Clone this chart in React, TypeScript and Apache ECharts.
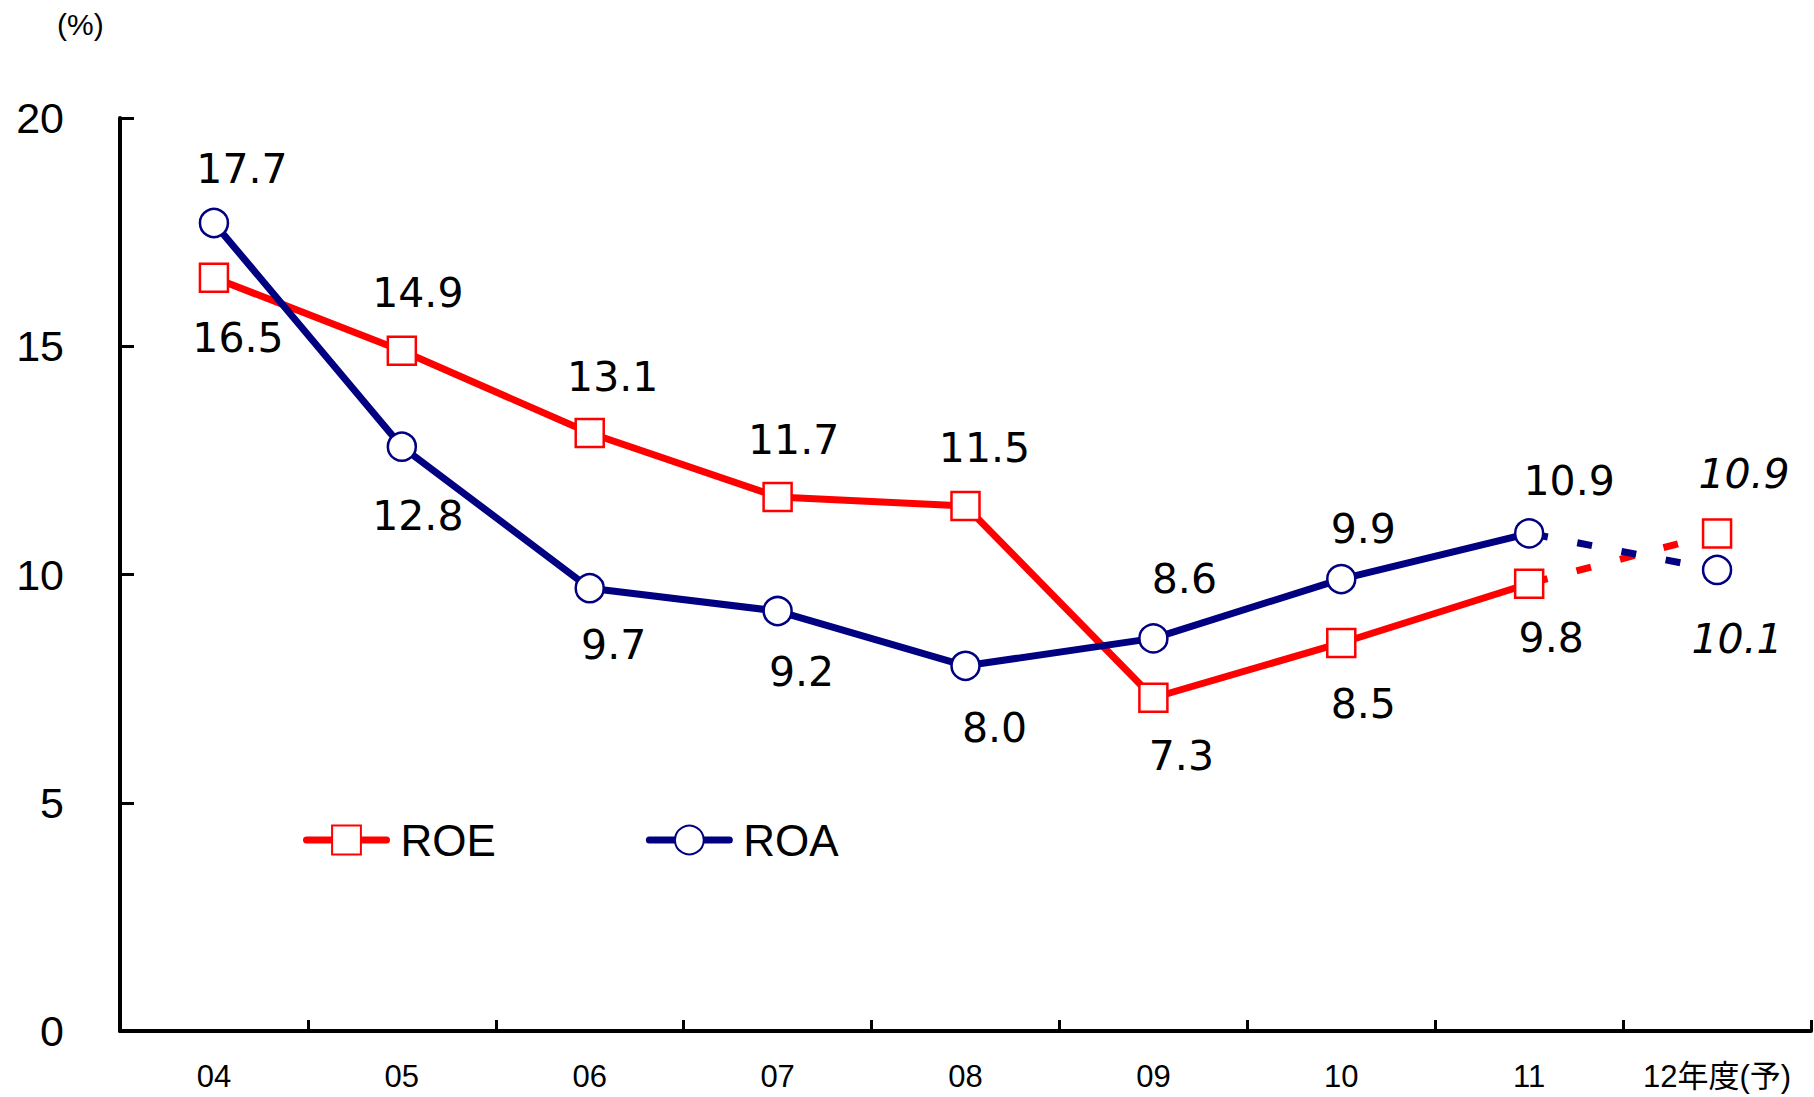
import React, { useEffect, useRef } from "react";
import * as echarts from "echarts";

const categories = ["04", "05", "06", "07", "08", "09", "10", "11", "12年度(予)"];
const roeValues = [16.5, 14.9, 13.1, 11.7, 11.5, 7.3, 8.5, 9.8, 10.9];
const roaValues = [17.7, 12.8, 9.7, 9.2, 8.0, 8.6, 9.9, 10.9, 10.1];
const lastActualIndex = 7; // index 8 is the forecast
const yTicks = { min: 0, max: 20, interval: 5 };

// label placement (style, not data): [dx, dy] offsets from the marker
const roeLabelOffsets = [[24, 60], [16, -58], [23, -56], [16, -57], [19, -58], [28, 58], [22, 61], [22, 54], [27, -59]];
const roaLabelOffsets = [[28, -54], [16, 69], [24, 57], [24, 61], [29, 62], [31, -59], [22, -50], [40, -52], [20, 69]];

const RED = "#ff0000";
const NAVY = "#000080";
const LABEL_FONT = "'DejaVu Sans', 'Liberation Sans', sans-serif";
const AXIS_FONT = "'Liberation Sans', Arial, sans-serif";
const NARROW_FONT = "'Liberation Sans Narrow', 'Liberation Sans', sans-serif";

function actualData(values: number[], offsets: number[][]) {
  return values.map((v, i) =>
    i <= lastActualIndex
      ? {
          value: v,
          label: {
            show: true,
            position: "inside",
            offset: offsets[i],
            formatter: () => v.toFixed(1),
          },
        }
      : null
  );
}

function forecastData(values: number[], offsets: number[][]) {
  return values.map((v, i) => {
    if (i === lastActualIndex) return { value: v, symbol: "none", label: { show: false } };
    if (i > lastActualIndex)
      return {
        value: v,
        label: {
          show: true,
          position: "inside",
          offset: offsets[i],
          fontStyle: "italic",
          formatter: () => v.toFixed(1),
        },
      };
    return null;
  });
}

const labelStyle = {
  color: "#000",
  fontSize: 41,
  fontWeight: "normal",
  fontFamily: LABEL_FONT,
};

export default function App() {
  const ref = useRef<HTMLDivElement>(null);
  useEffect(() => {
    if (!ref.current) return;
    const chart = echarts.init(ref.current, undefined, { renderer: "svg" });
    const markerBase = { symbolSize: 28, showAllSymbol: true };
    chart.setOption({
      animation: false,
      backgroundColor: "#fff",
      grid: { left: 120, right: 3, top: 118, bottom: 66, containLabel: false },
      graphic: [
        {
          type: "text",
          left: 57,
          top: 9,
          style: { text: "(%)", fontSize: 30, fontFamily: NARROW_FONT, fill: "#000" },
        },
      ],
      legend: {
        left: 298,
        top: 813,
        itemWidth: 80,
        itemHeight: 36,
        itemGap: 150,
        data: ["ROE", "ROA"],
        lineStyle: { width: 7, cap: "round" },
        textStyle: { fontSize: 44, fontFamily: AXIS_FONT, color: "#000", padding: [0, 0, 0, 9] },
      },
      xAxis: {
        type: "category",
        data: categories,
        boundaryGap: true,
        axisLine: { show: true, lineStyle: { color: "#000", width: 4 } },
        axisTick: { show: true, inside: true, interval: 0, length: 11, lineStyle: { color: "#000", width: 3 } },
        axisLabel: {
          interval: 0,
          margin: 30,
          fontSize: 31,
          color: "#000",
          fontFamily: "'Liberation Sans', 'Noto Sans CJK JP', sans-serif",
        },
        splitLine: { show: false },
      },
      yAxis: {
        type: "value",
        min: yTicks.min,
        max: yTicks.max,
        interval: yTicks.interval,
        axisLine: { show: true, lineStyle: { color: "#000", width: 4 } },
        axisTick: { show: true, inside: true, length: 14, lineStyle: { color: "#000", width: 3 } },
        axisLabel: { margin: 56, fontSize: 43, color: "#000", fontFamily: AXIS_FONT },
        splitLine: { show: false },
      },
      series: [
        {
          name: "ROE",
          type: "line",
          ...markerBase,
          symbol: "rect",
          data: actualData(roeValues, roeLabelOffsets),
          lineStyle: { color: RED, width: 7 },
          itemStyle: { color: "#fff", borderColor: RED, borderWidth: 2.5 },
          label: labelStyle,
          z: 3,
        },
        {
          name: "ROE予",
          type: "line",
          ...markerBase,
          symbol: "rect",
          data: forecastData(roeValues, roeLabelOffsets),
          lineStyle: { color: RED, width: 7, type: [15, 30], dashOffset: 41 },
          itemStyle: { color: "#fff", borderColor: RED, borderWidth: 2.5 },
          label: labelStyle,
          z: 3,
        },
        {
          name: "ROA",
          type: "line",
          ...markerBase,
          symbol: "circle",
          data: actualData(roaValues, roaLabelOffsets),
          lineStyle: { color: NAVY, width: 7 },
          itemStyle: { color: "#fff", borderColor: NAVY, borderWidth: 2.5 },
          label: labelStyle,
          z: 4,
        },
        {
          name: "ROA予",
          type: "line",
          ...markerBase,
          symbol: "circle",
          data: forecastData(roaValues, roaLabelOffsets),
          lineStyle: { color: NAVY, width: 7, type: [15, 30], dashOffset: 41 },
          itemStyle: { color: "#fff", borderColor: NAVY, borderWidth: 2.5 },
          label: labelStyle,
          z: 4,
        },
      ],
    });
    return () => chart.dispose();
  }, []);
  return (
    <div
      ref={ref}
      style={{ position: "fixed", left: 0, top: 0, width: 1814, height: 1097, background: "#fff" }}
    />
  );
}
